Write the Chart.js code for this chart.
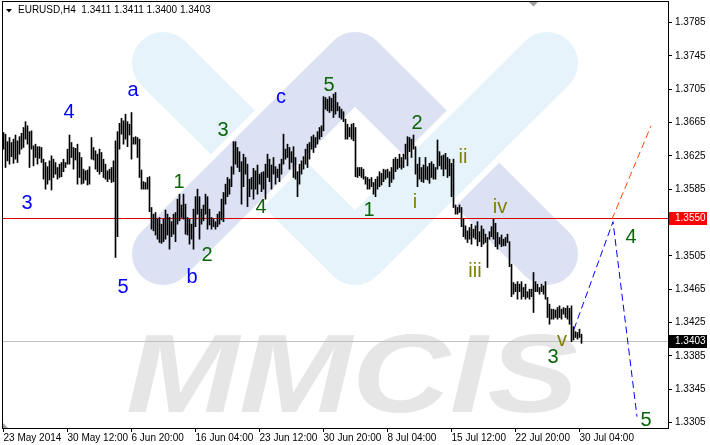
<!DOCTYPE html>
<html lang="en">
<head>
  <meta charset="UTF-8" />
  <title>EURUSD,H4</title>
  <script src="https://cdn.jsdelivr.net/npm/chart.js@4.4.0/dist/chart.umd.min.js"></script>
  <style>
    html, body { margin: 0; padding: 0; background: #fff; }
    canvas { display: block; }
  </style>
</head>
<body>
  <canvas id="chart" width="710" height="445"></canvas>

  <script>
    // H4 bars, 23 May 2014 .. 30 Jul 2014 (high / low)
    const highs = [
      1.3653,1.3651,1.3642,1.3647,1.3641,1.3645,1.3650,1.3643,1.3648,1.3652,
      1.3659,1.3666,1.3661,1.3654,1.3655,1.3637,1.3639,1.3636,1.3636,1.3635,
      1.3621,1.3617,1.3612,1.3619,1.3625,1.3621,1.3617,1.3611,1.3615,1.3617,
      1.3621,1.3617,1.3633,1.3650,1.3641,1.3635,1.3634,1.3639,1.3629,1.3623,
      1.3609,1.3607,1.3608,1.3612,1.3647,1.3635,1.3631,1.3627,1.3633,1.3629,
      1.3621,1.3615,1.3607,1.3609,1.3611,1.3619,1.3643,1.3654,1.3664,1.3670,
      1.3667,1.3675,1.3666,1.3663,1.3677,1.3647,1.3648,1.3647,1.3645,1.3608,
      1.3594,1.3593,1.3599,1.3600,1.3563,1.3555,1.3557,1.3549,1.3551,1.3543,
      1.3549,1.3560,1.3555,1.3551,1.3546,1.3555,1.3557,1.3573,1.3579,1.3566,
      1.3579,1.3567,1.3551,1.3549,1.3543,1.3561,1.3576,1.3585,1.3576,1.3561,
      1.3566,1.3579,1.3576,1.3561,1.3551,1.3549,1.3546,1.3555,1.3558,1.3573,
      1.3581,1.3591,1.3599,1.3597,1.3612,1.3642,1.3642,1.3635,1.3630,1.3618,
      1.3627,1.3623,1.3615,1.3597,1.3599,1.3610,1.3607,1.3614,1.3603,1.3605,
      1.3606,1.3615,1.3627,1.3621,1.3614,1.3623,1.3612,1.3609,1.3615,1.3621,
      1.3651,1.3633,1.3639,1.3635,1.3630,1.3636,1.3623,1.3606,1.3615,1.3619,
      1.3624,1.3633,1.3639,1.3641,1.3648,1.3650,1.3647,1.3654,1.3659,1.3661,
      1.3696,1.3695,1.3693,1.3696,1.3694,1.3699,1.3701,1.3689,1.3684,1.3681,
      1.3678,1.3669,1.3663,1.3659,1.3663,1.3664,1.3659,1.3611,1.3611,1.3611,
      1.3609,1.3600,1.3599,1.3597,1.3599,1.3593,1.3597,1.3600,1.3606,1.3604,
      1.3609,1.3608,1.3609,1.3606,1.3611,1.3621,1.3623,1.3621,1.3627,1.3623,
      1.3627,1.3639,1.3648,1.3647,1.3645,1.3650,1.3636,1.3615,1.3623,1.3611,
      1.3614,1.3623,1.3612,1.3616,1.3618,1.3615,1.3611,1.3644,1.3630,1.3625,
      1.3626,1.3628,1.3623,1.3621,1.3616,1.3621,1.3566,1.3563,1.3566,1.3563,
      1.3549,1.3541,1.3535,1.3539,1.3543,1.3537,1.3541,1.3546,1.3534,1.3541,
      1.3537,1.3531,1.3527,1.3534,1.3540,1.3549,1.3544,1.3533,1.3527,1.3530,
      1.3525,1.3527,1.3531,1.3522,1.3495,1.3473,1.3471,1.3474,1.3471,1.3474,
      1.3467,1.3471,1.3462,1.3465,1.3465,1.3485,1.3474,1.3471,1.3467,1.3471,
      1.3469,1.3474,1.3455,1.3447,1.3441,1.3441,1.3440,1.3443,1.3445,1.3441,
      1.3443,1.3442,1.3445,1.3442,1.3445,1.3420,1.3414,1.3413,1.3417,1.3411
    ];
    const lows = [
      1.3633,1.3611,1.3619,1.3615,1.3624,1.3616,1.3621,1.3617,1.3627,1.3633,
      1.3635,1.3645,1.3639,1.3611,1.3633,1.3613,1.3623,1.3615,1.3622,1.3617,
      1.3597,1.3585,1.3591,1.3596,1.3584,1.3599,1.3603,1.3597,1.3599,1.3600,
      1.3606,1.3611,1.3615,1.3615,1.3623,1.3609,1.3620,1.3591,1.3599,1.3591,
      1.3592,1.3596,1.3590,1.3591,1.3621,1.3620,1.3609,1.3606,1.3603,1.3606,
      1.3599,1.3597,1.3594,1.3597,1.3593,1.3594,1.3503,1.3528,1.3633,1.3651,
      1.3639,1.3645,1.3636,1.3650,1.3621,1.3639,1.3639,1.3623,1.3599,1.3585,
      1.3585,1.3585,1.3585,1.3558,1.3537,1.3535,1.3530,1.3525,1.3521,1.3520,
      1.3522,1.3525,1.3530,1.3513,1.3528,1.3531,1.3522,1.3543,1.3547,1.3551,
      1.3549,1.3531,1.3530,1.3519,1.3525,1.3513,1.3540,1.3555,1.3525,1.3543,
      1.3547,1.3555,1.3537,1.3542,1.3537,1.3540,1.3537,1.3540,1.3543,1.3548,
      1.3546,1.3567,1.3576,1.3579,1.3588,1.3603,1.3615,1.3611,1.3606,1.3567,
      1.3588,1.3603,1.3564,1.3576,1.3585,1.3573,1.3585,1.3579,1.3591,1.3582,
      1.3585,1.3573,1.3599,1.3594,1.3585,1.3603,1.3591,1.3599,1.3594,1.3603,
      1.3615,1.3621,1.3623,1.3609,1.3617,1.3599,1.3597,1.3576,1.3591,1.3603,
      1.3609,1.3615,1.3611,1.3621,1.3633,1.3629,1.3635,1.3639,1.3645,1.3648,
      1.3655,1.3681,1.3679,1.3677,1.3679,1.3671,1.3675,1.3679,1.3671,1.3669,
      1.3666,1.3645,1.3645,1.3648,1.3645,1.3643,1.3600,1.3599,1.3601,1.3599,
      1.3597,1.3591,1.3585,1.3585,1.3588,1.3579,1.3576,1.3585,1.3588,1.3590,
      1.3594,1.3597,1.3599,1.3588,1.3593,1.3597,1.3606,1.3609,1.3611,1.3609,
      1.3611,1.3621,1.3613,1.3630,1.3623,1.3633,1.3603,1.3588,1.3597,1.3594,
      1.3593,1.3597,1.3596,1.3592,1.3599,1.3597,1.3597,1.3609,1.3613,1.3609,
      1.3601,1.3609,1.3599,1.3601,1.3576,1.3563,1.3555,1.3555,1.3557,1.3540,
      1.3528,1.3525,1.3521,1.3525,1.3519,1.3527,1.3525,1.3517,1.3522,1.3516,
      1.3519,1.3521,1.3491,1.3525,1.3528,1.3525,1.3516,1.3513,1.3519,1.3516,
      1.3517,1.3517,1.3521,1.3492,1.3456,1.3459,1.3462,1.3453,1.3462,1.3453,
      1.3456,1.3453,1.3455,1.3453,1.3456,1.3437,1.3462,1.3462,1.3459,1.3462,
      1.3459,1.3453,1.3431,1.3423,1.3429,1.3429,1.3431,1.3429,1.3431,1.3429,
      1.3435,1.3431,1.3429,1.3423,1.3402,1.3404,1.3407,1.3405,1.3407,1.3400
    ];

    const timeLabels = ['23 May 2014', '30 May 12:00', '6 Jun 20:00', '16 Jun 04:00', '23 Jun 12:00',
                        '30 Jun 20:00', '8 Jul 04:00', '15 Jul 12:00', '22 Jul 20:00', '30 Jul 04:00'];
    const barsPerLabel = 32;
    const priceTicks = [1.3785, 1.3745, 1.3705, 1.3665, 1.3625, 1.3585, 1.3545,
                        1.3505, 1.3465, 1.3425, 1.3385, 1.3345, 1.3305];

    const symbol = 'EURUSD,H4';
    const lastQuote = [1.3411, 1.3411, 1.3400, 1.3403];   // O H L C
    const levelPrice = 1.3550;
    const bidPrice = 1.3403;

    // forecast paths (bar index, price)
    const forecastX = [285.25, 304.75, 316.75];
    const forecastY = [1.3417, 1.3546, 1.3312];
    const altX = [304.25, 323.75];
    const altY = [1.3549, 1.3661];

    // elliott wave marks
    const waveText   = ['4', 'a', '3', '5', 'b', 'c',
                        '1', '2', '3', '4', '5', '1', '2', '3', '4', '5',
                        'i', 'ii', 'iii', 'iv', 'v'];
    const waveIndex  = [32.75, 64.75, 11.75, 59.75, 94.25, 138.75,
                        87.75, 101.75, 109.75, 128.75, 162.75, 182.75, 206.75, 274.75, 313.75, 321.25,
                        205.75, 229.75, 235.75, 248.25, 279.25];
    const wavePrice  = [1.3670, 1.3697, 1.3561, 1.3460, 1.3473, 1.3689,
                        1.3587, 1.3499, 1.3649, 1.3556, 1.3703, 1.3553, 1.3657, 1.3376, 1.3521, 1.3301,
                        1.3563, 1.3617, 1.3480, 1.3557, 1.3397];
    const waveDegree = ['big', 'big', 'big', 'big', 'big', 'big',
                        'mid', 'mid', 'mid', 'mid', 'mid', 'mid', 'mid', 'mid', 'mid', 'mid',
                        'small', 'small', 'small', 'small', 'small'];

    const degreeColor = { big: '#0000ff', mid: '#0a640a', small: '#808000' };
    const axisFont = { family: '"Liberation Sans", Arial, sans-serif', size: 10 };

    function drawLogo(ctx) {
      const band = 62, gap = 6;
      const lightBlue = '#e6f3fa', lavender = '#dce1f4';
      const leg = (pts, color) => {
        ctx.beginPath();
        pts.forEach(([x, y], k) => k ? ctx.lineTo(x, y) : ctx.moveTo(x, y));
        ctx.lineWidth = band + gap * 2;
        ctx.strokeStyle = '#fff';
        ctx.stroke();
        ctx.lineWidth = band;
        ctx.strokeStyle = color;
        ctx.stroke();
      };
      ctx.lineCap = 'round';
      ctx.lineJoin = 'round';
      leg([[163, 63], [355, 254], [547, 63]], lightBlue);
      leg([[163, 254], [355, 63], [547, 254]], lavender);
      ctx.save();
      ctx.beginPath();
      ctx.rect(400, 0, 310, 300);
      ctx.clip();
      leg([[355, 254], [547, 63]], lightBlue);
      ctx.restore();

      // MMCIS lettering
      ctx.font = 'italic bold 112px "Liberation Sans"';
      const w = ctx.measureText('MMCIS').width;
      ctx.save();
      ctx.translate(126, 412);
      ctx.scale(452 / w, 1);
      ctx.fillStyle = '#e6e6e6';
      ctx.textBaseline = 'alphabetic';
      ctx.textAlign = 'left';
      ctx.fillText('MMCIS', 0, 0);
      ctx.restore();
    }

    const mtDecor = {
      id: 'mtDecor',
      beforeDatasetsDraw(chart) {
        const { ctx, chartArea: a, scales: { y } } = chart;
        ctx.save();
        ctx.beginPath();
        ctx.rect(a.left, a.top, a.right - a.left, a.bottom - a.top);
        ctx.clip();
        drawLogo(ctx);
        ctx.lineWidth = 1;
        ctx.strokeStyle = '#c0c0c0';
        let py = Math.round(y.getPixelForValue(bidPrice)) + 0.5;
        ctx.beginPath(); ctx.moveTo(a.left, py); ctx.lineTo(a.right, py); ctx.stroke();
        ctx.strokeStyle = '#e00000';
        py = Math.round(y.getPixelForValue(levelPrice)) + 0.5;
        ctx.beginPath(); ctx.moveTo(a.left, py); ctx.lineTo(a.right, py); ctx.stroke();
        ctx.restore();
      },
      afterDatasetsDraw(chart) {
        const { ctx, scales: { x, y } } = chart;
        ctx.save();
        ctx.font = '20px "Liberation Sans", Arial, sans-serif';
        ctx.textAlign = 'center';
        ctx.textBaseline = 'alphabetic';
        waveText.forEach((t, k) => {
          ctx.fillStyle = degreeColor[waveDegree[k]];
          ctx.fillText(t, x.getPixelForValue(waveIndex[k]), y.getPixelForValue(wavePrice[k]));
        });
        ctx.restore();
      },
      afterDraw(chart) {
        const { ctx, chartArea: a, scales: { y } } = chart;
        ctx.save();
        // frame
        ctx.strokeStyle = '#000';
        ctx.lineWidth = 1;
        ctx.strokeRect(a.left + 0.5, a.top + 0.5, a.right - a.left, a.bottom - a.top);

        // price boxes on the scale
        const box = (price, bg) => {
          const py = Math.round(y.getPixelForValue(price));
          ctx.fillStyle = bg;
          ctx.fillRect(a.right + 1, py - 6, 38, 13);
          ctx.fillStyle = '#fff';
          ctx.font = '10px "Liberation Sans", Arial, sans-serif';
          ctx.textAlign = 'left';
          ctx.textBaseline = 'middle';
          ctx.fillText(price.toFixed(4), a.right + 7, py + 0.5);
        };
        box(levelPrice, '#ff0000');
        box(bidPrice, '#000000');

        // header
        ctx.fillStyle = '#000';
        ctx.beginPath(); ctx.moveTo(6, 9); ctx.lineTo(12, 9); ctx.lineTo(9, 12.5); ctx.closePath(); ctx.fill();
        ctx.font = '10px "Liberation Sans", Arial, sans-serif';
        ctx.textAlign = 'left';
        ctx.textBaseline = 'alphabetic';
        ctx.fillText(symbol + '  ' + lastQuote.map(v => v.toFixed(4)).join(' '), 18, 13);

        // shift markers
        ctx.fillStyle = '#a0a0a0';
        ctx.beginPath(); ctx.moveTo(529, 2); ctx.lineTo(538, 2); ctx.lineTo(533.5, 6.5); ctx.closePath(); ctx.fill();
        ctx.beginPath(); ctx.moveTo(3, 423); ctx.lineTo(3, 428); ctx.lineTo(8, 428); ctx.closePath(); ctx.fill();
        ctx.restore();
      }
    };

    const bars = highs.map((h, i) => ({ x: i, y: [lows[i], h] }));
    const toPts = (xs, ys) => xs.map((v, k) => ({ x: v, y: ys[k] }));

    new Chart(document.getElementById('chart'), {
      data: {
        datasets: [
          {
            type: 'bar',
            data: bars,
            backgroundColor: '#000',
            borderWidth: 0,
            barThickness: 1,
            grouped: false,
            order: 3
          },
          {
            type: 'line',
            data: toPts(forecastX, forecastY),
            borderColor: '#0000ff',
            borderWidth: 1,
            borderDash: [7, 4],
            pointRadius: 0,
            fill: false,
            order: 1
          },
          {
            type: 'line',
            data: toPts(altX, altY),
            borderColor: '#ff4500',
            borderWidth: 1,
            borderDash: [7, 4],
            pointRadius: 0,
            fill: false,
            order: 1
          }
        ]
      },
      options: {
        responsive: false,
        animation: false,
        devicePixelRatio: 1,
        layout: { padding: { left: 2, top: 1, right: 0, bottom: 0 } },
        plugins: { legend: { display: false }, tooltip: { enabled: false } },
        scales: {
          x: {
            type: 'linear',
            offset: false,
            min: -0.75,
            max: 332.25,
            grid: { offset: false, drawOnChartArea: false, drawTicks: true, tickLength: 4, color: '#000' },
            border: { display: false },
            afterBuildTicks: s => { s.ticks = timeLabels.map((_, k) => ({ value: k * barsPerLabel })); },
            afterFit: s => { s.height = 17; s.paddingLeft = 0; s.paddingRight = 0; },
            ticks: {
              autoSkip: false,
              maxRotation: 0,
              minRotation: 0,
              align: 'start',
              padding: 0,
              color: '#000',
              font: axisFont,
              callback: (v, k) => timeLabels[k]
            }
          },
          y: {
            type: 'linear',
            position: 'right',
            min: 1.32984,
            max: 1.38108,
            grid: { drawOnChartArea: false, drawTicks: true, tickLength: 4, color: '#000' },
            border: { display: false },
            afterBuildTicks: s => { s.ticks = priceTicks.map(v => ({ value: v })); },
            afterFit: s => { s.width = 42; s.paddingTop = 0; s.paddingBottom = 0; },
            ticks: {
              autoSkip: false,
              padding: 3,
              color: '#000',
              font: axisFont,
              callback: v => v.toFixed(4)
            }
          }
        }
      },
      plugins: [mtDecor]
    });
  </script>
</body>
</html>
